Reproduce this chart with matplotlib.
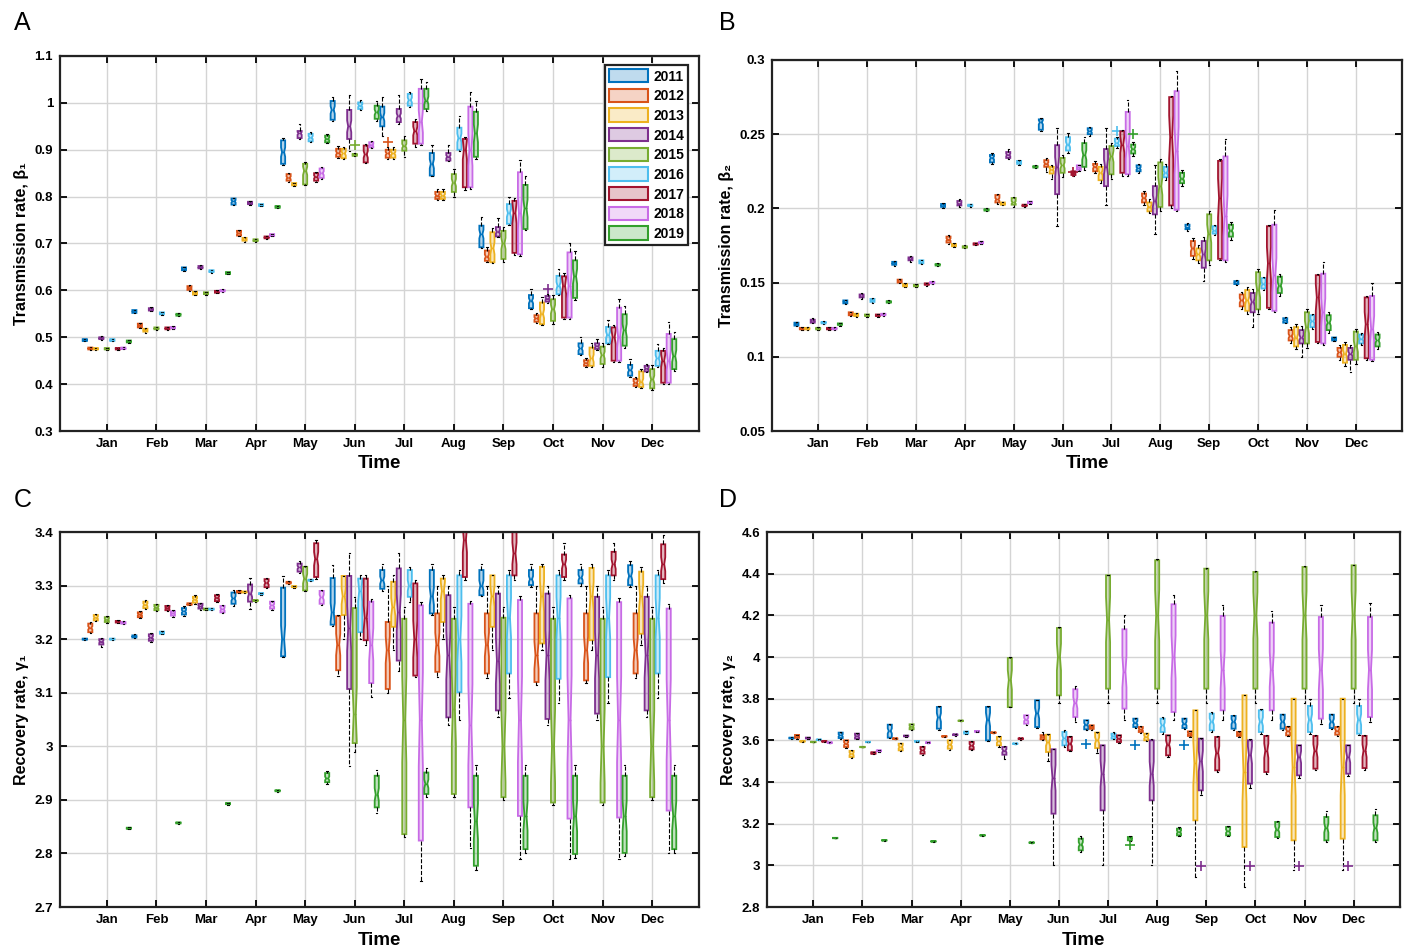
"""Monthly boxplots of fitted SIR-type rates per year (2011-2019), 4 panels."""
import matplotlib
matplotlib.use("Agg")
import matplotlib.pyplot as plt
from matplotlib.colors import to_rgba
from matplotlib.patches import Patch
from matplotlib.ticker import FuncFormatter

plt.rcParams["font.family"] = ["Liberation Sans", "DejaVu Sans"]

YEARS = ["2011", "2012", "2013", "2014", "2015", "2016", "2017", "2018", "2019"]
MONTHS = ["Jan", "Feb", "Mar", "Apr", "May", "Jun", "Jul", "Aug", "Sep", "Oct", "Nov", "Dec"]
COLORS = ["#0072BD", "#D95319", "#EDB120", "#7E2F8E", "#77AC30",
          "#4DBEEE", "#A2142F", "#C86BE6", "#33A02C"]

# ---------------------------------------------------------------- panel A (beta_1)
A_Q1 = [
    [.492, .552, .643, .783, .870, .964, .950, .845, .692, .562, .464, .418],
    [.474, .521, .601, .717, .834, .885, .883, .795, .663, .533, .439, .396],
    [.474, .512, .591, .706, .824, .882, .883, .795, .660, .528, .439, .394],
    [.496, .557, .647, .784, .925, .923, .959, .877, .715, .576, .475, .427],
    [.474, .517, .592, .705, .826, .887, .898, .810, .667, .535, .443, .391],
    [.492, .549, .639, .780, .918, .987, .994, .900, .742, .592, .487, .439],
    [.474, .517, .595, .711, .834, .873, .913, .820, .680, .542, .450, .403],
    [.475, .519, .598, .716, .840, .905, .913, .820, .677, .542, .450, .403],
    [.489, .546, .635, .776, .916, .966, .987, .885, .731, .584, .482, .432],
]
A_MED = [
    [.494, .555, .646, .790, .895, .985, .970, .870, .720, .578, .476, .430],
    [.476, .525, .605, .722, .840, .893, .892, .802, .672, .540, .445, .403],
    [.475, .515, .594, .709, .826, .892, .892, .802, .690, .550, .455, .405],
    [.498, .559, .649, .786, .935, .950, .972, .885, .725, .582, .481, .433],
    [.475, .519, .594, .707, .855, .889, .908, .830, .700, .560, .462, .410],
    [.494, .551, .641, .782, .926, .994, 1.006, .925, .765, .610, .505, .455],
    [.476, .519, .597, .713, .842, .890, .940, .900, .765, .610, .500, .450],
    [.476, .520, .599, .718, .850, .910, .960, .900, .765, .610, .500, .450],
    [.491, .548, .637, .778, .923, .980, 1.005, .935, .775, .630, .515, .460],
]
A_Q3 = [
    [.496, .558, .649, .796, .920, 1.004, .992, .893, .738, .590, .487, .441],
    [.478, .529, .609, .727, .848, .902, .900, .810, .685, .547, .451, .411],
    [.477, .518, .597, .712, .829, .902, .900, .810, .724, .574, .478, .427],
    [.500, .562, .652, .789, .940, .985, .987, .893, .735, .588, .487, .439],
    [.477, .521, .596, .709, .870, .891, .920, .848, .727, .581, .480, .432],
    [.496, .553, .643, .784, .934, 1.001, 1.019, .947, .784, .631, .522, .471],
    [.477, .521, .599, .715, .850, .909, .959, .923, .791, .630, .521, .471],
    [.478, .522, .601, .720, .860, .916, 1.030, .992, .852, .681, .563, .507],
    [.493, .550, .639, .780, .930, .994, 1.030, .981, .825, .664, .549, .496],
]
A_LO = [
    [.491, .551, .642, .782, .868, .962, .930, .843, .690, .560, .462, .416],
    [.473, .519, .599, .715, .832, .883, .881, .793, .661, .531, .437, .394],
    [.473, .510, .590, .704, .823, .880, .881, .793, .658, .526, .437, .392],
    [.495, .556, .646, .783, .923, .898, .955, .875, .713, .574, .473, .425],
    [.473, .516, .591, .704, .824, .886, .885, .800, .660, .528, .437, .387],
    [.491, .548, .638, .779, .916, .985, .992, .898, .740, .590, .485, .437],
    [.473, .516, .594, .710, .832, .871, .905, .815, .676, .538, .447, .400],
    [.474, .518, .597, .715, .838, .903, .910, .817, .674, .539, .447, .400],
    [.488, .545, .634, .775, .914, .962, .982, .880, .728, .580, .478, .428],
]
A_HI = [
    [.497, .559, .650, .798, .924, 1.013, 1.012, .910, .756, .603, .500, .453],
    [.479, .531, .611, .729, .851, .907, .905, .816, .693, .552, .456, .415],
    [.478, .520, .598, .713, .830, .906, .905, .816, .733, .585, .487, .433],
    [.502, .564, .654, .791, .954, 1.016, 1.016, .910, .755, .592, .496, .443],
    [.478, .522, .597, .710, .873, .892, .930, .858, .735, .590, .488, .440],
    [.497, .554, .644, .785, .937, 1.006, 1.024, .973, .800, .645, .537, .485],
    [.478, .522, .600, .716, .853, .912, .965, .928, .796, .636, .526, .476],
    [.479, .523, .602, .721, .864, .918, 1.051, 1.023, .878, .702, .581, .532],
    [.494, .551, .640, .781, .933, 1.005, 1.044, 1.003, .845, .685, .566, .512],
]
A_OUT = [(1, 6, .916), (3, 9, .603), (4, 5, .910)]   # (year idx, month idx, value)

# ---------------------------------------------------------------- panel B (beta_2)
B_Q1 = [
    [.121, .136, .162, .201, .231, .253, .250, .225, .186, .149, .123, .111],
    [.1185, .128, .150, .177, .204, .228, .225, .204, .168, .134, .111, .100],
    [.1185, .1275, .1475, .1745, .2025, .2235, .219, .198, .165, .131, .107, .096],
    [.123, .140, .165, .202, .234, .2096, .215, .196, .160, .130, .109, .098],
    [.1185, .1275, .1475, .1735, .2025, .224, .223, .201, .165, .132, .109, .098],
    [.1225, .137, .163, .2015, .230, .239, .242, .221, .183, .146, .120, .109],
    [.1185, .1275, .1485, .1755, .2015, .2225, .224, .202, .166, .133, .110, .099],
    [.1185, .128, .1495, .1765, .2035, .226, .223, .199, .165, .131, .109, .098],
    [.1215, .1365, .1615, .1985, .2275, .228, .237, .217, .181, .143, .118, .107],
]
B_MED = [
    [.122, .137, .163, .202, .234, .258, .252, .227, .187, .150, .1245, .112],
    [.119, .129, .151, .179, .206, .230, .228, .207, .173, .138, .114, .103],
    [.119, .128, .148, .175, .203, .226, .224, .201, .169, .138, .113, .102],
    [.124, .141, .166, .203, .236, .228, .228, .205, .169, .137, .113, .102],
    [.119, .128, .148, .174, .204, .229, .235, .215, .183, .145, .120, .107],
    [.123, .138, .164, .202, .231, .243, .244, .224, .185, .149, .124, .112],
    [.119, .128, .149, .176, .202, .224, .243, .248, .207, .163, .140, .122],
    [.119, .1285, .150, .177, .204, .2275, .242, .239, .195, .155, .130, .119],
    [.122, .137, .162, .199, .228, .236, .240, .220, .185, .148, .123, .111],
]
B_Q3 = [
    [.123, .138, .164, .203, .236, .260, .254, .229, .189, .151, .126, .113],
    [.1195, .130, .152, .181, .209, .2325, .230, .210, .178, .142, .118, .106],
    [.1195, .129, .149, .176, .204, .228, .228, .204, .173, .145, .120, .108],
    [.125, .142, .167, .205, .238, .2426, .240, .215, .178, .143, .118, .106],
    [.1195, .1285, .1485, .1745, .207, .234, .242, .231, .196, .157, .130, .117],
    [.1235, .139, .165, .2025, .232, .248, .247, .228, .188, .153, .128, .115],
    [.1195, .1285, .1495, .1765, .2025, .225, .252, .275, .232, .188, .155, .140],
    [.1195, .129, .1505, .1775, .2045, .229, .265, .279, .235, .189, .156, .141],
    [.1225, .1375, .1625, .1995, .2285, .244, .243, .224, .189, .154, .128, .115],
]
B_LO = [
    [.1205, .1355, .1615, .2005, .230, .252, .249, .224, .185, .1485, .1225, .1105],
    [.118, .1275, .1495, .176, .203, .2245, .224, .202, .166, .132, .109, .098],
    [.118, .127, .147, .174, .202, .220, .217, .197, .163, .129, .105, .094],
    [.1225, .139, .164, .201, .233, .188, .202, .183, .151, .120, .100, .090],
    [.118, .127, .147, .173, .201, .221, .220, .198, .162, .129, .106, .095],
    [.122, .1365, .1625, .201, .2295, .237, .241, .219, .182, .145, .119, .108],
    [.118, .127, .148, .175, .201, .222, .222, .200, .165, .132, .109, .098],
    [.118, .1275, .149, .176, .203, .2255, .222, .198, .164, .130, .108, .097],
    [.121, .136, .161, .198, .227, .226, .235, .215, .179, .141, .116, .105],
]
B_HI = [
    [.1235, .1385, .1645, .2035, .237, .261, .255, .230, .190, .1515, .1265, .1135],
    [.120, .1305, .1525, .182, .210, .234, .232, .212, .180, .144, .120, .108],
    [.120, .1295, .1495, .1765, .2045, .229, .230, .206, .175, .147, .122, .110],
    [.126, .143, .168, .206, .240, .2545, .2545, .229, .181, .146, .121, .108],
    [.120, .129, .149, .175, .208, .236, .244, .233, .198, .159, .132, .119],
    [.124, .1395, .1655, .203, .2325, .251, .248, .230, .189, .154, .129, .116],
    [.120, .129, .150, .177, .203, .2255, .253, .276, .233, .189, .156, .141],
    [.120, .1295, .151, .178, .205, .2295, .273, .2925, .247, .199, .164, .150],
    [.123, .138, .163, .200, .229, .248, .245, .226, .191, .156, .130, .117],
]
B_OUT = [(5, 6, .252), (6, 5, .2245), (8, 6, .250)]

# ---------------------------------------------------------------- panel C (gamma_1)
C_Q1 = [
    [3.199, 3.203, 3.246, 3.266, 3.168, 3.227, 3.294, 3.248, 3.282, 3.301, 3.304, 3.301],
    [3.213, 3.241, 3.264, 3.287, 3.304, 3.142, 3.107, 3.139, 3.136, 3.120, 3.123, 3.136],
    [3.235, 3.258, 3.268, 3.287, 3.297, 3.245, 3.223, 3.232, 3.223, 3.192, 3.198, 3.210],
    [3.190, 3.197, 3.257, 3.270, 3.326, 3.107, 3.160, 3.054, 3.067, 3.051, 3.061, 3.067],
    [3.232, 3.254, 3.255, 3.271, 3.291, 3.006, 2.836, 2.911, 2.905, 2.895, 2.895, 2.905],
    [3.199, 3.210, 3.255, 3.284, 3.309, 3.213, 3.279, 3.101, 3.136, 3.126, 3.129, 3.136],
    [3.231, 3.254, 3.271, 3.297, 3.316, 3.198, 3.132, 3.316, 3.319, 3.316, 3.319, 3.312],
    [3.229, 3.244, 3.250, 3.257, 3.266, 3.118, 2.824, 2.886, 2.870, 2.865, 2.867, 2.880],
    [2.846, 2.856, 2.892, 2.916, 2.933, 2.886, 2.911, 2.777, 2.808, 2.799, 2.801, 2.808],
]
C_MED = [
    [3.200, 3.205, 3.252, 3.276, 3.200, 3.250, 3.310, 3.280, 3.300, 3.312, 3.315, 3.318],
    [3.221, 3.246, 3.265, 3.288, 3.305, 3.190, 3.180, 3.190, 3.190, 3.170, 3.180, 3.180],
    [3.240, 3.264, 3.274, 3.288, 3.298, 3.280, 3.260, 3.290, 3.280, 3.280, 3.280, 3.280],
    [3.195, 3.203, 3.261, 3.285, 3.334, 3.220, 3.250, 3.170, 3.160, 3.170, 3.170, 3.170],
    [3.236, 3.259, 3.256, 3.272, 3.313, 3.060, 3.050, 3.070, 3.000, 3.000, 3.000, 3.000],
    [3.200, 3.212, 3.256, 3.285, 3.310, 3.290, 3.300, 3.200, 3.240, 3.240, 3.240, 3.240],
    [3.232, 3.258, 3.277, 3.305, 3.350, 3.240, 3.200, 3.385, 3.360, 3.340, 3.340, 3.340],
    [3.230, 3.248, 3.256, 3.263, 3.278, 3.190, 3.050, 3.040, 3.050, 3.050, 3.050, 3.050],
    [2.847, 2.857, 2.893, 2.917, 2.940, 2.910, 2.930, 2.860, 2.870, 2.870, 2.870, 2.870],
]
C_Q3 = [
    [3.201, 3.207, 3.258, 3.287, 3.296, 3.314, 3.329, 3.329, 3.329, 3.329, 3.329, 3.338],
    [3.229, 3.250, 3.267, 3.290, 3.307, 3.243, 3.232, 3.248, 3.248, 3.248, 3.248, 3.248],
    [3.245, 3.270, 3.279, 3.289, 3.299, 3.318, 3.307, 3.313, 3.319, 3.335, 3.333, 3.326],
    [3.200, 3.209, 3.266, 3.302, 3.341, 3.318, 3.332, 3.282, 3.285, 3.285, 3.279, 3.279],
    [3.241, 3.264, 3.257, 3.273, 3.335, 3.258, 3.238, 3.238, 3.240, 3.238, 3.238, 3.238],
    [3.201, 3.214, 3.257, 3.286, 3.311, 3.313, 3.329, 3.319, 3.319, 3.319, 3.319, 3.319],
    [3.234, 3.262, 3.282, 3.312, 3.379, 3.313, 3.304, 3.430, 3.420, 3.358, 3.363, 3.377],
    [3.232, 3.252, 3.262, 3.270, 3.290, 3.270, 3.263, 3.266, 3.273, 3.276, 3.269, 3.257],
    [2.848, 2.858, 2.894, 2.918, 2.950, 2.945, 2.951, 2.945, 2.945, 2.945, 2.945, 2.945],
]
C_LO = [
    [3.198, 3.202, 3.243, 3.262, 3.166, 3.225, 3.290, 3.246, 3.280, 3.298, 3.300, 3.298],
    [3.211, 3.239, 3.263, 3.286, 3.303, 3.131, 3.100, 3.130, 3.128, 3.115, 3.118, 3.128],
    [3.233, 3.256, 3.266, 3.286, 3.296, 3.200, 3.180, 3.200, 3.180, 3.180, 3.180, 3.190],
    [3.186, 3.194, 3.255, 3.256, 3.324, 2.964, 3.140, 3.040, 3.055, 3.040, 3.050, 3.055],
    [3.230, 3.252, 3.254, 3.270, 3.289, 2.990, 2.830, 2.905, 2.900, 2.890, 2.890, 2.900],
    [3.198, 3.209, 3.254, 3.283, 3.308, 3.200, 3.270, 3.050, 3.090, 3.080, 3.080, 3.090],
    [3.230, 3.252, 3.269, 3.295, 3.312, 3.190, 3.130, 3.310, 3.310, 3.310, 3.310, 3.305],
    [3.228, 3.242, 3.248, 3.255, 3.264, 3.092, 2.749, 2.810, 2.790, 2.790, 2.790, 2.800],
    [2.845, 2.855, 2.891, 2.915, 2.930, 2.875, 2.905, 2.770, 2.800, 2.792, 2.795, 2.800],
]
C_HI = [
    [3.202, 3.209, 3.262, 3.292, 3.318, 3.338, 3.340, 3.340, 3.340, 3.340, 3.340, 3.345],
    [3.232, 3.252, 3.268, 3.291, 3.308, 3.245, 3.300, 3.300, 3.300, 3.300, 3.300, 3.300],
    [3.247, 3.273, 3.282, 3.290, 3.300, 3.318, 3.320, 3.320, 3.320, 3.340, 3.340, 3.335],
    [3.202, 3.211, 3.268, 3.315, 3.345, 3.360, 3.360, 3.300, 3.300, 3.300, 3.300, 3.300],
    [3.244, 3.266, 3.258, 3.274, 3.337, 3.279, 3.260, 3.260, 3.260, 3.260, 3.260, 3.260],
    [3.202, 3.215, 3.258, 3.287, 3.312, 3.320, 3.335, 3.330, 3.330, 3.330, 3.330, 3.330],
    [3.235, 3.264, 3.285, 3.315, 3.385, 3.320, 3.310, 3.450, 3.440, 3.380, 3.380, 3.395],
    [3.233, 3.254, 3.264, 3.272, 3.292, 3.275, 3.270, 3.272, 3.280, 3.282, 3.276, 3.265],
    [2.849, 2.859, 2.895, 2.919, 2.953, 2.955, 2.960, 2.965, 2.965, 2.965, 2.965, 2.965],
]
C_OUT = []

# ---------------------------------------------------------------- panel D (gamma_2)
D_Q1 = [
    [3.609, 3.611, 3.613, 3.656, 3.600, 3.664, 3.653, 3.664, 3.659, 3.656, 3.656, 3.659],
    [3.612, 3.568, 3.606, 3.618, 3.636, 3.605, 3.655, 3.640, 3.621, 3.621, 3.624, 3.627],
    [3.594, 3.520, 3.552, 3.560, 3.576, 3.544, 3.563, 3.600, 3.216, 3.088, 3.120, 3.128],
    [3.609, 3.608, 3.619, 3.625, 3.531, 3.248, 3.264, 3.312, 3.360, 3.392, 3.432, 3.440],
    [3.591, 3.567, 3.653, 3.693, 3.760, 3.816, 3.848, 3.848, 3.848, 3.848, 3.848, 3.848],
    [3.602, 3.591, 3.594, 3.632, 3.583, 3.576, 3.608, 3.640, 3.648, 3.640, 3.640, 3.632],
    [3.594, 3.535, 3.536, 3.557, 3.606, 3.552, 3.592, 3.528, 3.456, 3.448, 3.464, 3.467],
    [3.588, 3.548, 3.588, 3.641, 3.680, 3.712, 3.752, 3.736, 3.744, 3.744, 3.704, 3.712],
    [3.130, 3.119, 3.114, 3.143, 3.108, 3.072, 3.120, 3.144, 3.144, 3.136, 3.120, 3.120],
]
D_MED = [
    [3.611, 3.624, 3.645, 3.710, 3.700, 3.730, 3.675, 3.684, 3.680, 3.690, 3.690, 3.690],
    [3.619, 3.584, 3.608, 3.619, 3.637, 3.616, 3.664, 3.652, 3.632, 3.630, 3.644, 3.645],
    [3.595, 3.535, 3.568, 3.580, 3.596, 3.590, 3.600, 3.616, 3.490, 3.450, 3.470, 3.470],
    [3.611, 3.620, 3.621, 3.627, 3.550, 3.420, 3.440, 3.440, 3.500, 3.530, 3.520, 3.520],
    [3.592, 3.568, 3.665, 3.694, 3.890, 4.000, 4.180, 4.200, 4.200, 4.200, 4.200, 4.200],
    [3.603, 3.592, 3.595, 3.637, 3.584, 3.610, 3.620, 3.672, 3.690, 3.690, 3.700, 3.700],
    [3.595, 3.539, 3.552, 3.575, 3.608, 3.584, 3.608, 3.580, 3.540, 3.550, 3.550, 3.550],
    [3.589, 3.550, 3.589, 3.643, 3.700, 3.780, 3.930, 4.000, 3.940, 3.940, 3.940, 3.940],
    [3.131, 3.120, 3.115, 3.144, 3.109, 3.100, 3.130, 3.160, 3.164, 3.172, 3.180, 3.180],
]
D_Q3 = [
    [3.613, 3.637, 3.675, 3.760, 3.760, 3.792, 3.696, 3.704, 3.704, 3.717, 3.723, 3.723],
    [3.626, 3.600, 3.610, 3.620, 3.638, 3.625, 3.672, 3.664, 3.643, 3.640, 3.664, 3.664],
    [3.597, 3.549, 3.584, 3.600, 3.616, 3.627, 3.637, 3.632, 3.744, 3.816, 3.800, 3.800],
    [3.613, 3.632, 3.623, 3.629, 3.568, 3.557, 3.576, 3.600, 3.608, 3.600, 3.576, 3.576],
    [3.593, 3.569, 3.677, 3.695, 3.995, 4.139, 4.392, 4.464, 4.424, 4.408, 4.432, 4.440],
    [3.604, 3.593, 3.596, 3.642, 3.585, 3.640, 3.632, 3.704, 3.728, 3.744, 3.765, 3.765],
    [3.596, 3.543, 3.568, 3.592, 3.610, 3.616, 3.624, 3.624, 3.616, 3.621, 3.621, 3.621],
    [3.590, 3.552, 3.590, 3.645, 3.720, 3.845, 4.133, 4.253, 4.197, 4.165, 4.192, 4.192],
    [3.132, 3.121, 3.116, 3.145, 3.110, 3.128, 3.136, 3.176, 3.184, 3.208, 3.232, 3.240],
]
D_LO = [
    [3.607, 3.608, 3.610, 3.652, 3.595, 3.660, 3.650, 3.660, 3.655, 3.652, 3.652, 3.655],
    [3.608, 3.564, 3.605, 3.617, 3.635, 3.600, 3.650, 3.636, 3.618, 3.618, 3.620, 3.623],
    [3.593, 3.515, 3.548, 3.555, 3.570, 3.500, 3.540, 3.595, 2.944, 2.896, 2.980, 2.980],
    [3.607, 3.605, 3.617, 3.623, 3.510, 3.000, 3.000, 3.000, 3.340, 3.370, 3.420, 3.430],
    [3.590, 3.566, 3.650, 3.692, 3.758, 3.780, 3.780, 3.780, 3.780, 3.780, 3.780, 3.780],
    [3.601, 3.590, 3.593, 3.630, 3.582, 3.570, 3.605, 3.630, 3.640, 3.632, 3.632, 3.625],
    [3.593, 3.533, 3.532, 3.553, 3.604, 3.548, 3.588, 3.522, 3.450, 3.440, 3.458, 3.460],
    [3.587, 3.546, 3.587, 3.639, 3.676, 3.690, 3.700, 3.700, 3.700, 3.700, 3.680, 3.690],
    [3.129, 3.118, 3.113, 3.142, 3.107, 3.065, 3.115, 3.140, 3.140, 3.130, 3.110, 3.110],
]
D_HI = [
    [3.615, 3.640, 3.680, 3.765, 3.765, 3.795, 3.700, 3.708, 3.708, 3.720, 3.726, 3.726],
    [3.628, 3.604, 3.611, 3.621, 3.639, 3.640, 3.676, 3.668, 3.646, 3.643, 3.668, 3.668],
    [3.598, 3.552, 3.588, 3.604, 3.620, 3.632, 3.640, 3.636, 3.744, 3.816, 3.800, 3.800],
    [3.615, 3.635, 3.625, 3.631, 3.572, 3.560, 3.580, 3.605, 3.612, 3.605, 3.580, 3.580],
    [3.594, 3.570, 3.680, 3.696, 3.998, 4.142, 4.395, 4.470, 4.428, 4.412, 4.436, 4.444],
    [3.605, 3.594, 3.597, 3.644, 3.586, 3.648, 3.640, 3.712, 3.736, 3.752, 3.800, 3.800],
    [3.597, 3.545, 3.572, 3.596, 3.612, 3.620, 3.628, 3.628, 3.620, 3.625, 3.625, 3.625],
    [3.591, 3.554, 3.591, 3.647, 3.724, 3.860, 4.200, 4.300, 4.250, 4.220, 4.250, 4.260],
    [3.133, 3.122, 3.117, 3.146, 3.111, 3.140, 3.140, 3.182, 3.190, 3.214, 3.260, 3.270],
]
D_OUT = [(0, 6, 3.584), (0, 7, 3.576), (0, 8, 3.580), (3, 8, 2.997), (3, 9, 2.997),
         (3, 10, 2.997), (3, 11, 2.997), (8, 6, 3.100)]

NOTCH = 0.2      # notch half-height as a fraction of the IQR


def draw_panel(ax, q1, med, q3, lo, hi, out, ylim, yticks, ylabel):
    nm = len(MONTHS)
    for k, c in enumerate(COLORS):
        stats = []
        for m in range(nm):
            iqr = q3[k][m] - q1[k][m]
            stats.append(dict(q1=q1[k][m], med=med[k][m], q3=q3[k][m],
                              whislo=lo[k][m], whishi=hi[k][m],
                              cilo=med[k][m] - NOTCH * iqr, cihi=med[k][m] + NOTCH * iqr,
                              fliers=[v for (yk, mm, v) in out if yk == k and mm == m]))
        pos = [m * len(YEARS) + k + 1 for m in range(nm)]
        ax.bxp(stats, positions=pos, widths=0.75, patch_artist=True, shownotches=True,
               boxprops=dict(facecolor=to_rgba(c, 0.3), edgecolor=c, lw=1.3),
               medianprops=dict(color=c, lw=1.0),
               whiskerprops=dict(color="k", ls="--", lw=0.8),
               capprops=dict(color="k", lw=0.8), capwidths=0.25,
               flierprops=dict(marker="+", markeredgecolor=c, markersize=7, mew=1.2),
               manage_ticks=False)
    ax.set_xlim(-3.5, 112.5)
    ax.set_ylim(*ylim)
    ax.set_xticks([m * len(YEARS) + 5 for m in range(nm)])
    ax.set_xticklabels(MONTHS)
    ax.set_yticks(yticks)
    ax.yaxis.set_major_formatter(FuncFormatter(lambda v, p: f"{v:g}"))
    ax.grid(True, color="#d4d4d4", lw=1.0)
    ax.set_axisbelow(True)
    ax.tick_params(direction="in", top=True, right=True, length=5, width=1.3,
                   labelsize=9.5, pad=5)
    for lab in ax.get_xticklabels() + ax.get_yticklabels():
        lab.set_fontweight("bold")
    for s in ax.spines.values():
        s.set_linewidth(1.6)
        s.set_color("#222222")
    ax.set_xlabel("Time", fontsize=13.5, fontweight="bold", labelpad=4)
    ax.set_ylabel(ylabel, fontsize=11.5, fontweight="bold")


fig = plt.figure(figsize=(14.16, 9.47), dpi=100)
axA = fig.add_axes([60 / 1416, 1 - 431 / 947, 639 / 1416, 375 / 947])
axB = fig.add_axes([772 / 1416, 1 - 431 / 947, 630 / 1416, 371 / 947])
axC = fig.add_axes([60 / 1416, 1 - 907 / 947, 639 / 1416, 375 / 947])
axD = fig.add_axes([767 / 1416, 1 - 907 / 947, 633 / 1416, 375 / 947])

draw_panel(axA, A_Q1, A_MED, A_Q3, A_LO, A_HI, A_OUT, (0.3, 1.1),
           [0.3, 0.4, 0.5, 0.6, 0.7, 0.8, 0.9, 1.0, 1.1], "Transmission rate, β₁")
draw_panel(axB, B_Q1, B_MED, B_Q3, B_LO, B_HI, B_OUT, (0.05, 0.3),
           [0.05, 0.1, 0.15, 0.2, 0.25, 0.3], "Transmission rate, β₂")
draw_panel(axC, C_Q1, C_MED, C_Q3, C_LO, C_HI, C_OUT, (2.7, 3.4),
           [2.7, 2.8, 2.9, 3.0, 3.1, 3.2, 3.3, 3.4], "Recovery rate, γ₁")
draw_panel(axD, D_Q1, D_MED, D_Q3, D_LO, D_HI, D_OUT, (2.8, 4.6),
           [2.8, 3.0, 3.2, 3.4, 3.6, 3.8, 4.0, 4.2, 4.4, 4.6], "Recovery rate, γ₂")

handles = [Patch(facecolor=to_rgba(c, 0.25), edgecolor=c, lw=1.5) for c in COLORS]
leg = axA.legend(handles, YEARS, loc="upper right", bbox_to_anchor=(0.983, 0.976),
                 borderaxespad=0, fancybox=False, framealpha=1, edgecolor="#222222",
                 prop=dict(weight="bold", size=10), handlelength=2.8, handleheight=1.1,
                 labelspacing=0.38, handletextpad=0.35, borderpad=0.3)
leg.get_frame().set_linewidth(1.6)

for lab, x, y in [("A", 0.010, 0.988), ("B", 0.508, 0.988),
                  ("C", 0.010, 0.485), ("D", 0.508, 0.485)]:
    fig.text(x, y, lab, fontsize=18, va="top", ha="left")

fig.savefig("out.png", dpi=100)
